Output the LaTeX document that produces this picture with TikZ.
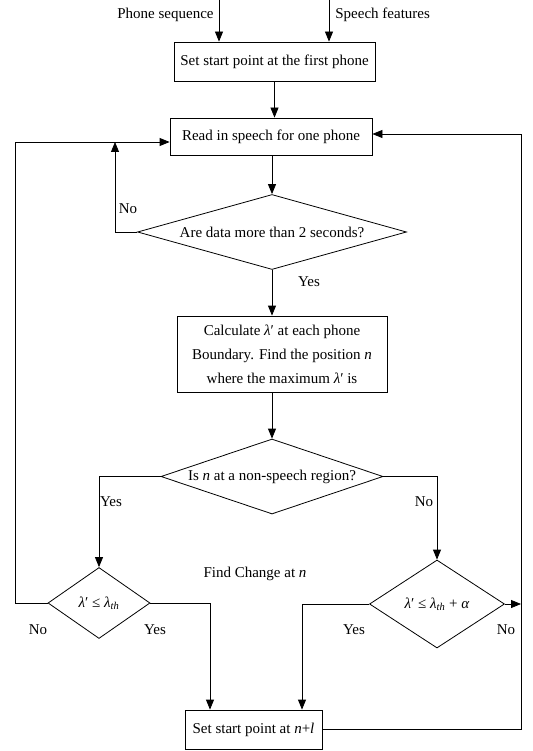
\documentclass[tikz,border=0pt]{standalone}
\usepackage{fontspec}
\setmainfont{Liberation Serif}
\usetikzlibrary{arrows.meta,shapes.geometric,calc}
\begin{document}
\begin{tikzpicture}[x=1pt,y=-1pt,
  font=\fontsize{15}{17}\selectfont,
  line width=0.8pt,
  arr/.style={-{Triangle[length=10pt,width=8pt]}},
  box/.style={draw,rectangle,inner sep=2pt,align=center},
  dia/.style={draw,diamond,inner sep=0pt},
  lab/.style={inner sep=0pt}]
\useasboundingbox (0,0) rectangle (532,751);
% nodes
\node[box,minimum width=201pt,minimum height=39pt] (b1) at (274.5,61.5) {Set start point at the first phone};
\node[box,minimum width=202pt,minimum height=37pt] (b2) at (271,136.5) {Read in speech for one phone};
\node[dia,minimum width=269pt,minimum height=75pt,aspect=3.6] (d1) at (272,232) {Are data more than 2 seconds?};
\node[box,minimum width=210pt,minimum height=76pt,font=\fontsize{15}{24}\selectfont] (b3) at (282,354)
  {Calculate \textit{λ}′ at each phone\\Boundary. Find the position \textit{n}\\where the maximum \textit{λ}′ is};
\node[dia,minimum width=222pt,minimum height=75pt,aspect=3] (d2) at (272,476.5) {Is \textit{n} at a non-speech region?};
\node[dia,minimum width=102pt,minimum height=71pt,aspect=1.4] (d3) at (99,603) {\textit{λ}′ ≤ \textit{λ}\textsubscript{\textit{th}}};
\node[dia,minimum width=135pt,minimum height=88pt,aspect=1.5] (d4) at (437,604) {\textit{λ}′ ≤ \textit{λ}\textsubscript{\textit{th}} + \textit{α}};
\node[box,minimum width=137pt,minimum height=39pt] (b4) at (253.5,729.5) {Set start point at \textit{n}+\textit{l}};
% labels
\node[lab,anchor=east] (tps) at (214,15) {Phone sequence};
\node[lab,anchor=west] (tsf) at (335,15) {Speech features};
\node[lab] (no1) at (128,209) {No};
\node[lab] (yes1) at (309,282) {Yes};
\node[lab] (yes2) at (111,502) {Yes};
\node[lab] (no2) at (424,502) {No};
\node[lab] (find) at (255,574) {Find Change at \textit{n}};
\node[lab] (no3) at (38,630) {No};
\node[lab] (yes3) at (155,630) {Yes};
\node[lab] (yes4) at (354,630) {Yes};
\node[lab] (no4) at (506,630) {No};
% coordinates
\coordinate (p1) at (219,0);
\coordinate (p2) at (329,0);
\coordinate (L) at (15,142);
\coordinate (R) at (521,134);
\coordinate (nu) at (115,142);
\coordinate (y3x) at (210,0);
\coordinate (y4x) at (302,0);
% connectors
\draw[arr] (p1) -- (p1 |- b1.north);
\draw[arr] (p2) -- (p2 |- b1.north);
\draw[arr] (b1.south) -- (b1.south |- b2.north);
\draw[arr] (d1.north |- b2.south) -- (d1.north);
\draw[arr] (d1.west) -| (nu);
\draw[arr] (d1.south) -- (d1.south |- b3.north);
\draw[arr] (d2.north |- b3.south) -- (d2.north);
\draw[arr] (d2.west) -| (d3.north);
\draw[arr] (d2.east) -| (d4.north);
\draw[arr] (d3.west) -| (L) -- (L -| b2.west);
\draw[arr] (d3.east) -| (y3x |- b4.north);
\draw[arr] (d4.west) -| (y4x |- b4.north);
\draw[arr] (d4.east) -- (d4.east -| R);
\draw[arr] (b4.east) -| (R) -- (R -| b2.east);
\end{tikzpicture}
\end{document}
